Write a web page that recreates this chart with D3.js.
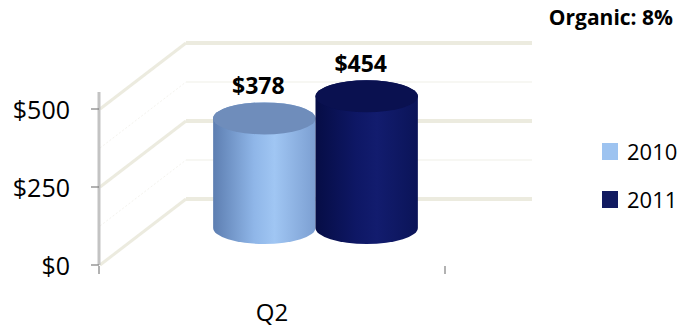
<!DOCTYPE html>
<html><head><meta charset="utf-8">
<script src="https://cdn.jsdelivr.net/npm/d3@7"></script>
<style>body{margin:0;background:#fff}svg{display:block}text{font-family:"Open Sans",sans-serif}</style>
</head><body><svg id="c" width="679" height="327"></svg>
<script>
const categories = ["Q2"];
const series = ["2010", "2011"];
const values2010 = [378];
const values2011 = [454];
const valueLabels = [["$378", "$454"]];
const yTicks = [0, 250, 500];
const yTickLabels = ["$0", "$250", "$500"];
const title = "Organic: 8%";

const colors = {"2010": "#9dc3f0", "2011": "#111a60"};
const svg = d3.select("#c");
const defs = svg.append("defs");

// depth offset of the oblique 3D box
const depth = {dx: 87, dy: -66};
const yFront = d3.scaleLinear().domain([0, 500]).range([265, 109]);
const yBar = d3.scaleLinear().domain([0, 500]).range([228, 83]);
const x0 = d3.scaleBand().domain(categories).range([99, 445]);
const x1 = d3.scaleBand().domain(series).range([0, x0.bandwidth()]).paddingInner(0).paddingOuter(0.69);

const grid = "#ecebdf";
// side wall + back wall gridlines
yTicks.forEach(t => {
  const yf = yFront(t), yb = yf + depth.dy;
  svg.append("line").attr("x1", 100).attr("y1", yf).attr("x2", 99 + depth.dx).attr("y2", yb)
    .attr("stroke", grid).attr("stroke-width", 3);
  svg.append("line").attr("x1", 99 + depth.dx).attr("y1", yb).attr("x2", 532).attr("y2", yb)
    .attr("stroke", grid).attr("stroke-width", 4);
});
// faint minor lines
[125, 375].forEach(t => {
  const yf = yFront(t), yb = yf + depth.dy;
  svg.append("line").attr("x1", 100).attr("y1", yf).attr("x2", 99 + depth.dx).attr("y2", yb)
    .attr("stroke", "#f4f3ee").attr("stroke-width", 1).attr("stroke-dasharray", "2,2");
  svg.append("line").attr("x1", 99 + depth.dx).attr("y1", yb).attr("x2", 532).attr("y2", yb)
    .attr("stroke", "#f7f7f3").attr("stroke-width", 2);
});

// value axis
svg.append("line").attr("x1", 99).attr("x2", 99).attr("y1", 92).attr("y2", yFront(0))
  .attr("stroke", "#c3c3c3").attr("stroke-width", 3);
yTicks.forEach((t, i) => {
  svg.append("line").attr("x1", 91).attr("x2", 99).attr("y1", yFront(t)).attr("y2", yFront(t))
    .attr("stroke", "#7f7f7f").attr("stroke-width", 1.2);
  svg.append("text").attr("x", 70).attr("y", yFront(t) + 10).attr("text-anchor", "end")
    .attr("font-size", 25).attr("fill", "#000").text(yTickLabels[i]);
});
// category ticks
[x0.range()[0], x0.range()[1]].forEach(x => {
  svg.append("line").attr("x1", x).attr("x2", x).attr("y1", 266).attr("y2", 274)
    .attr("stroke", "#7f7f7f").attr("stroke-width", 1.2);
});
svg.append("text").attr("x", x0(categories[0]) + x0.bandwidth() / 2).attr("y", 321)
  .attr("text-anchor", "middle").attr("font-size", 24).text(categories[0]);

// gradients
const grads = {
  "2010": {body: ["#5d7eb1", "#8fb6e8", "#a0c6f3", "#7c9fd2"], top: "#6f8dbb"},
  "2011": {body: ["#060d45", "#0e1765", "#121c6e", "#0b1458"], top: "#0a1150"}
};
series.forEach(s => {
  const g = defs.append("linearGradient").attr("id", "g" + s).attr("x1", 0).attr("x2", 1).attr("y1", 0).attr("y2", 0);
  const st = grads[s].body;
  [0, 0.4, 0.6, 1].forEach((o, i) => g.append("stop").attr("offset", o).attr("stop-color", st[i]));
});

const data = series.map((s, i) => ({s, v: (i === 0 ? values2010 : values2011)[0], label: valueLabels[0][i]}));
const ry = 16;
data.forEach(d => {
  const rx = x1.bandwidth() / 2;
  const cx = x0(categories[0]) + x1(d.s) + rx + depth.dx / 2;
  const base = yBar(0), top = yBar(d.v);
  const p = `M${cx - rx},${top} L${cx - rx},${base} A${rx},${ry} 0 0 0 ${cx + rx},${base} L${cx + rx},${top} A${rx},${ry} 0 0 0 ${cx - rx},${top} Z`;
  svg.append("path").attr("d", p).attr("fill", `url(#g${d.s})`);
  svg.append("ellipse").attr("cx", cx).attr("cy", top).attr("rx", rx).attr("ry", ry).attr("fill", grads[d.s].top);
  svg.append("text").attr("x", cx - 6).attr("y", top - ry - 8).attr("text-anchor", "middle")
    .attr("font-size", 23).attr("font-weight", "bold").text(d.label);
});

// legend
series.forEach((s, i) => {
  const y = 143 + i * 48;
  svg.append("rect").attr("x", 602).attr("y", y).attr("width", 16).attr("height", 17).attr("fill", colors[s]);
  svg.append("text").attr("x", 627).attr("y", y + 17).attr("font-size", 22).text(s);
});

svg.append("text").attr("x", 673).attr("y", 25).attr("text-anchor", "end")
  .attr("font-size", 21).attr("font-weight", "bold").text(title);
</script></body></html>
